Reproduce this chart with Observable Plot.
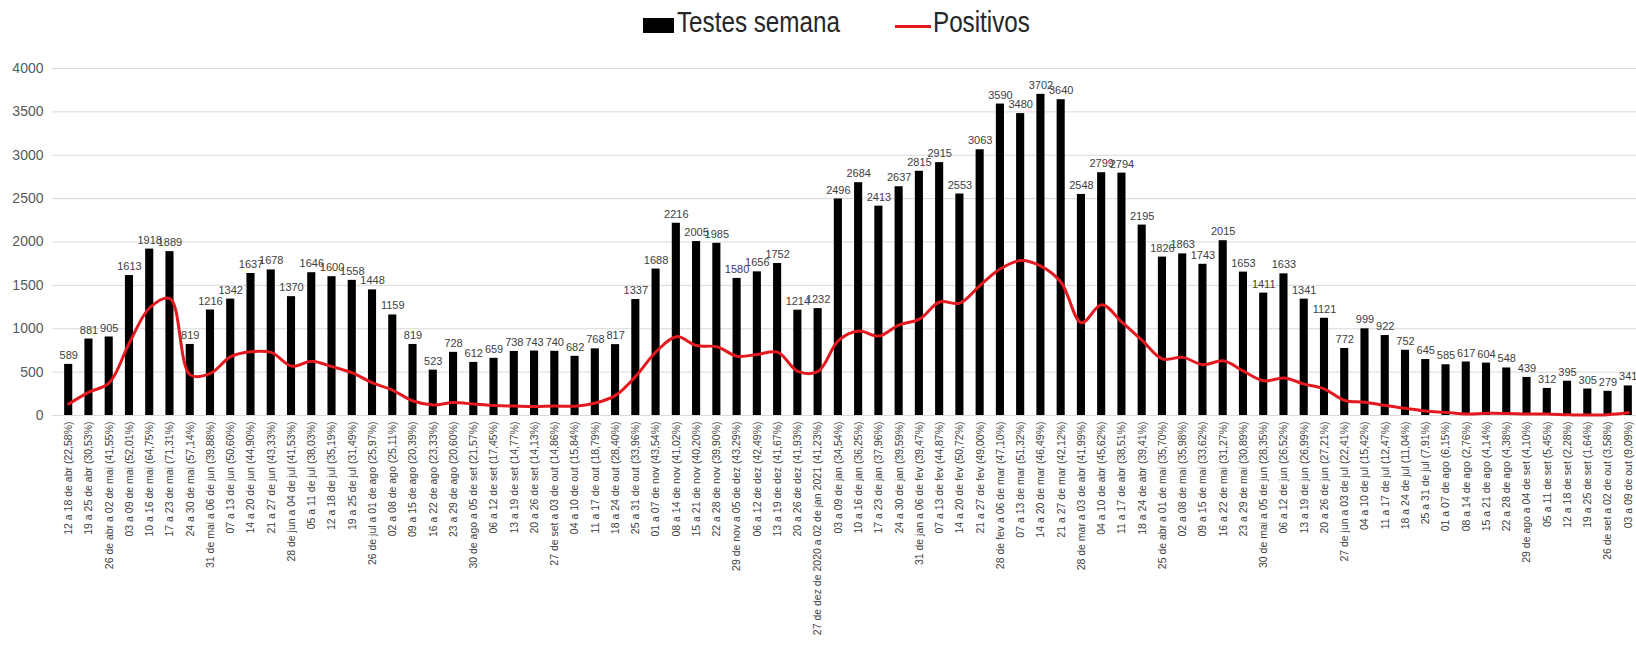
<!DOCTYPE html>
<html>
<head>
<meta charset="utf-8">
<script src="https://cdn.jsdelivr.net/npm/d3@7"></script>
<script src="https://cdn.jsdelivr.net/npm/@observablehq/plot@0.6"></script>
<style>
  html, body { margin: 0; padding: 0; background: #fff; width: 1636px; height: 672px; overflow: hidden; }
  #legend { position: absolute; top: 0; left: 0; width: 1636px; height: 42px; font-family: "Liberation Sans", Arial, sans-serif; font-size: 29px; color: #262626; }
  .item { position: absolute; top: 7px; line-height: 30px; white-space: nowrap; }
  .sw { display: inline-block; vertical-align: middle; }
  .txt { display: inline-block; transform: scaleX(0.835); transform-origin: left center; }
  #chart { position: absolute; top: 42px; left: 0; }
</style>
</head>
<body>
<div id="legend">
  <div class="item" style="left:643px"><span class="sw" style="width:31px;height:15px;background:#000;margin-right:3px;position:relative;top:1px"></span><span class="txt">Testes semana</span></div>
  <div class="item" style="left:895px"><span class="sw" style="width:36px;height:3px;background:#e3191f;margin-right:2px;position:relative;top:2px"></span><span class="txt">Positivos</span></div>
</div>
<div id="chart"></div>
<script>
const semanas = [
  "12 a 18 de abr (22,58%)", "19 a 25 de abr (30,53%)", "26 de abr a 02 de mai (41,55%)", "03 a 09 de mai (52,01%)",
  "10 a 16 de mai (64,75%)", "17 a 23 de mai (71,31%)", "24 a 30 de mai (57,14%)", "31 de mai a 06 de jun (39,88%)",
  "07 a 13 de jun (50,60%)", "14 a 20 de jun (44,90%)", "21 a 27 de jun (43,33%)", "28 de jun a 04 de jul (41,53%)",
  "05 a 11 de jul (38,03%)", "12 a 18 de jul (35,19%)", "19 a 25 de jul (31,49%)", "26 de jul a 01 de ago (25,97%)",
  "02 a 08 de ago (25,11%)", "09 a 15 de ago (20,39%)", "16 a 22 de ago (23,33%)", "23 a 29 de ago (20,60%)",
  "30 de ago a 05 de set (21,57%)", "06 a 12 de set (17,45%)", "13 a 19 de set (14,77%)", "20 a 26 de set (14,13%)",
  "27 de set a 03 de out (14,86%)", "04 a 10 de out (15,84%)", "11 a 17 de out (18,79%)", "18 a 24 de out (28,40%)",
  "25 a 31 de out (33,96%)", "01 a 07 de nov (43,54%)", "08 a 14 de nov (41,02%)", "15 a 21 de nov (40,20%)",
  "22 a 28 de nov (39,90%)", "29 de nov a 05 de dez (43,29%)", "06 a 12 de dez (42,49%)", "13 a 19 de dez (41,67%)",
  "20 a 26 de dez (41,93%)", "27 de dez de 2020 a 02 de jan 2021 (41,23%)", "03 a 09 de jan (34,54%)", "10 a 16 de jan (36,25%)",
  "17 a 23 de jan (37,96%)", "24 a 30 de jan (39,59%)", "31 de jan a 06 de fev (39,47%)", "07 a 13 de fev (44,87%)",
  "14 a 20 de fev (50,72%)", "21 a 27 de fev (49,00%)", "28 de fev a 06 de mar (47,10%)", "07 a 13 de mar (51,32%)",
  "14 a 20 de mar (46,49%)", "21 a 27 de mar (42,12%)", "28 de mar a 03 de abr (41,99%)", "04 a 10 de abr (45,62%)",
  "11 a 17 de abr (38,51%)", "18 a 24 de abr (39,41%)", "25 de abr a 01 de mai (35,70%)", "02 a 08 de mai (35,98%)",
  "09 a 15 de mai (33,62%)", "16 a 22 de mai (31,27%)", "23 a 29 de mai (30,89%)", "30 de mai a 05 de jun (28,35%)",
  "06 a 12 de jun (26,52%)", "13 a 19 de jun (26,99%)", "20 a 26 de jun (27,21%)", "27 de jun a 03 de jul (22,41%)",
  "04 a 10 de jul (15,42%)", "11 a 17 de jul (12,47%)", "18 a 24 de jul (11,04%)", "25 a 31 de jul (7,91%)",
  "01 a 07 de ago (6,15%)", "08 a 14 de ago (2,76%)", "15 a 21 de ago (4,14%)", "22 a 28 de ago (4,38%)",
  "29 de ago a 04 de set (4,10%)", "05 a 11 de set (5,45%)", "12 a 18 de set (2,28%)", "19 a 25 de set (1,64%)",
  "26 de set a 02 de out (3,58%)", "03 a 09 de out (9,09%)"
];
const testesSemana = [
  589, 881, 905, 1613, 1918, 1889, 819, 1216, 1342, 1637, 1678, 1370,
  1646, 1600, 1558, 1448, 1159, 819, 523, 728, 612, 659, 738, 743,
  740, 682, 768, 817, 1337, 1688, 2216, 2005, 1985, 1580, 1656, 1752,
  1214, 1232, 2496, 2684, 2413, 2637, 2815, 2915, 2553, 3063, 3590, 3480,
  3702, 3640, 2548, 2799, 2794, 2195, 1826, 1863, 1743, 2015, 1653, 1411,
  1633, 1341, 1121, 772, 999, 922, 752, 645, 585, 617, 604, 548,
  439, 312, 395, 305, 279, 341
];
const positivos = [
  133, 269, 376, 839, 1242, 1347, 468, 485, 679, 735, 727, 569,
  626, 563, 491, 376, 291, 167, 122, 150, 132, 115, 109, 105,
  110, 108, 144, 232, 454, 735, 909, 806, 792, 684, 704, 730,
  509, 508, 862, 973, 916, 1044, 1111, 1308, 1295, 1501, 1691, 1786,
  1721, 1533, 1070, 1277, 1076, 865, 652, 670, 586, 630, 511, 400,
  433, 362, 305, 173, 154, 115, 83, 51, 36, 17, 25, 24,
  18, 17, 9, 5, 10, 31
];
const yTicks = [0, 500, 1000, 1500, 2000, 2500, 3000, 3500, 4000];

const rows = semanas.map((s, i) => ({semana: s, testes: testesSemana[i], positivos: positivos[i]}));

const chart = Plot.plot({
  width: 1636,
  height: 630,
  marginTop: 26,
  marginBottom: 257,
  marginLeft: 52,
  marginRight: -8,
  style: {fontFamily: "'Liberation Sans', Arial, sans-serif", fontSize: "11px", color: "#404040", background: "#fff", overflow: "visible"},
  x: {domain: semanas, padding: 0.6, round: false},
  y: {domain: [0, 4000]},
  marks: [
    Plot.ruleY(yTicks, {stroke: "#d9d9d9", strokeWidth: 1}),
    Plot.axisY({ticks: yTicks, label: null, tickSize: 0, tickPadding: 9, fontSize: 14, fill: "#595959", tickFormat: d => String(d)}),
    Plot.axisX({label: null, tickRotate: -90, tickSize: 0, tickPadding: 6, fontSize: 10.5, fill: "#404040"}),
    Plot.barY(rows, {x: "semana", y: "testes", fill: "#000"}),
    Plot.line(rows, {x: "semana", y: "positivos", stroke: "#e3191f", strokeWidth: 3, curve: "catmull-rom"}),
    Plot.text(rows, {x: "semana", y: "testes", text: d => String(d.testes), dy: -9, fontSize: 11, fill: "#404040"})
  ]
});
document.getElementById("chart").appendChild(chart);
</script>
</body>
</html>
